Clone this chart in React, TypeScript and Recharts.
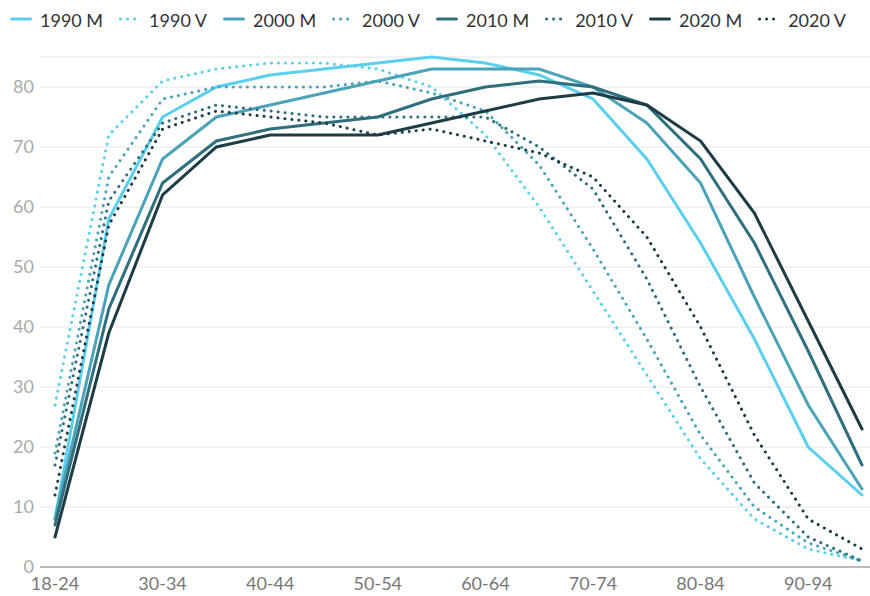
import { CartesianGrid, Legend, Line, LineChart, XAxis, YAxis } from 'recharts';

const ageGroups = [
  '18-24', '25-29', '30-34', '35-39', '40-44', '45-49', '50-54', '55-59',
  '60-64', '65-69', '70-74', '75-79', '80-84', '85-89', '90-94', '95+',
];

const m1990 = [8, 58, 75, 80, 82, 83, 84, 85, 84, 82, 78, 68, 54, 38, 20, 12];
const v1990 = [27, 72, 81, 83, 84, 84, 83, 80, 72, 60, 46, 32, 18, 8, 3, 1];
const m2000 = [8, 47, 68, 75, 77, 79, 81, 83, 83, 83, 80, 74, 64, 45, 27, 13];
const v2000 = [19, 65, 78, 80, 80, 80, 81, 79, 76, 67, 53, 38, 22, 10, 4, 1];
const m2010 = [7, 43, 64, 71, 73, 74, 75, 78, 80, 81, 80, 77, 68, 54, 36, 17];
const v2010 = [17, 61, 74, 77, 76, 75, 75, 75, 75, 70, 63, 48, 30, 14, 5, 1];
const m2020 = [5, 39, 62, 70, 72, 72, 72, 74, 76, 78, 79, 77, 71, 59, 41, 23];
const v2020 = [12, 57, 73, 76, 75, 74, 72, 73, 71, 69, 65, 55, 40, 22, 8, 3];

const yTicks = [0, 10, 20, 30, 40, 50, 60, 70, 80];

type Series = {
  key: string;
  name: string;
  color: string;
  dotted: boolean;
  values: number[];
};

const series: Series[] = [
  { key: 'm1990', name: '1990 M', color: '#5bcfee', dotted: false, values: m1990 },
  { key: 'v1990', name: '1990 V', color: '#5bcfee', dotted: true, values: v1990 },
  { key: 'm2000', name: '2000 M', color: '#4aa3b9', dotted: false, values: m2000 },
  { key: 'v2000', name: '2000 V', color: '#4aa3b9', dotted: true, values: v2000 },
  { key: 'm2010', name: '2010 M', color: '#2f6e7d', dotted: false, values: m2010 },
  { key: 'v2010', name: '2010 V', color: '#2f6e7d', dotted: true, values: v2010 },
  { key: 'm2020', name: '2020 M', color: '#1d3c46', dotted: false, values: m2020 },
  { key: 'v2020', name: '2020 V', color: '#1d3c46', dotted: true, values: v2020 },
];

const data = ageGroups.map((age, i) => {
  const row: Record<string, string | number> = { age };
  series.forEach((s) => {
    row[s.key] = s.values[i];
  });
  return row;
});

const DOTS = '0.1 6.9';

function renderLegend(props: any) {
  const payload = props.payload ?? [];
  return (
    <div style={{ display: 'flex', alignItems: 'center', height: 40, paddingLeft: 10 }}>
      {payload.map((entry: any) => {
        const s = series.find((item) => item.key === entry.dataKey);
        if (!s) return null;
        return (
          <div key={s.key} style={{ display: 'flex', alignItems: 'center', marginRight: 16 }}>
            <svg width={22} height={6} style={{ marginTop: -2 }}>
              <line
                x1={1.5}
                y1={3}
                x2={20.5}
                y2={3}
                stroke={s.color}
                strokeWidth={3}
                strokeLinecap="round"
                strokeDasharray={s.dotted ? DOTS : undefined}
              />
            </svg>
            <span style={{ marginLeft: 8, fontSize: 18, color: '#333', lineHeight: '20px' }}>{s.name}</span>
          </div>
        );
      })}
    </div>
  );
}

export default function App() {
  return (
    <div style={{ position: 'absolute', left: 0, top: 0, fontFamily: 'Lato, sans-serif' }}>
      <LineChart width={870} height={596} data={data} margin={{ top: 17, right: 0, bottom: 0, left: 0 }}>
        <CartesianGrid vertical={false} stroke="#e6e6e6" />
        <XAxis
          dataKey="age"
          interval={1}
          padding={{ left: 15, right: 8 }}
          height={29}
          tickLine={false}
          tickSize={0}
          tickMargin={10}
          axisLine={{ stroke: '#aaa', strokeWidth: 1.5 }}
          tick={{ fill: '#777', fontSize: 18, fontFamily: 'Lato' }}
        />
        <YAxis
          domain={[0, 85]}
          ticks={yTicks}
          width={40}
          axisLine={false}
          tickLine={false}
          tickSize={0}
          tickMargin={6}
          tick={{ fill: '#aaa', fontSize: 18, fontFamily: 'Lato' }}
        />
        <Legend
          verticalAlign="top"
          align="left"
          wrapperStyle={{ top: 0, left: 0 }}
          content={renderLegend}
        />
        {series.map((s) => (
          <Line
            key={s.key}
            type="linear"
            dataKey={s.key}
            name={s.name}
            stroke={s.color}
            strokeWidth={3}
            strokeLinecap="round"
            strokeDasharray={s.dotted ? DOTS : undefined}
            dot={false}
            activeDot={false}
            isAnimationActive={false}
          />
        ))}
      </LineChart>
    </div>
  );
}
